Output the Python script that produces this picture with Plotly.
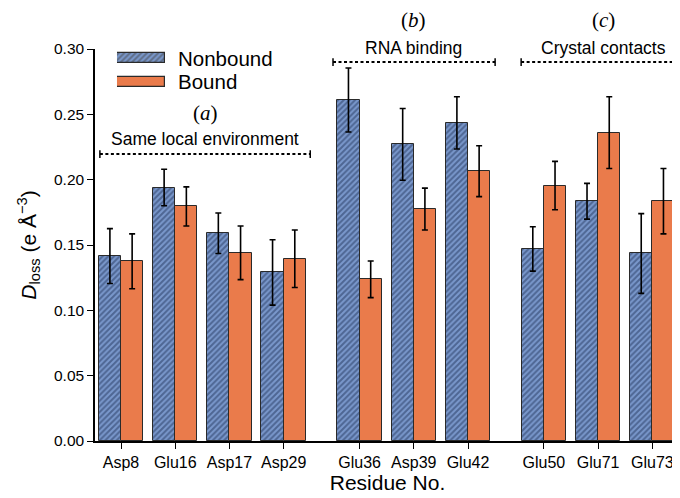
import plotly.graph_objects as go

residues = ["Asp8", "Glu16", "Asp17", "Asp29", "Glu36", "Asp39", "Glu42", "Glu50", "Glu71", "Glu73"]
xpos = [0, 1, 2, 3, 4.4, 5.4, 6.4, 7.8, 8.8, 9.8]
nonbound = [0.1415, 0.194, 0.159, 0.129, 0.261, 0.227, 0.2435, 0.147, 0.1835, 0.1435]
nonbound_err = [0.021, 0.014, 0.0155, 0.025, 0.0245, 0.0275, 0.020, 0.017, 0.0137, 0.0305]
bound = [0.1375, 0.1795, 0.144, 0.1395, 0.1237, 0.1775, 0.2065, 0.1955, 0.236, 0.1835]
bound_err = [0.021, 0.015, 0.0205, 0.022, 0.0140, 0.016, 0.0195, 0.0185, 0.0275, 0.0250]
ytick_vals = [0.0, 0.05, 0.10, 0.15, 0.20, 0.25, 0.30]
ytick_text = ["0.00", "0.05", "0.10", "0.15", "0.20", "0.25", "0.30"]

BLUE_BG = "#7a98cc"
BLUE_FG = "#22345a"
ORANGE = "#ea7b4b"
EDGE = "#2a2a2a"
BW = 0.41
FONT = "Arial, Liberation Sans, sans-serif"

fig = go.Figure()
fig.add_trace(go.Bar(
    x=xpos, y=nonbound, width=BW, offset=-BW, name="Nonbound",
    marker=dict(color=BLUE_BG, line=dict(color=EDGE, width=1),
                pattern=dict(shape="/", fgcolor=BLUE_FG, bgcolor=BLUE_BG, size=4, solidity=0.5)),
    error_y=dict(type="data", array=nonbound_err, color="black", thickness=1.6, width=3),
    showlegend=False))
fig.add_trace(go.Bar(
    x=xpos, y=bound, width=BW, offset=0, name="Bound",
    marker=dict(color=ORANGE, line=dict(color=EDGE, width=1)),
    error_y=dict(type="data", array=bound_err, color="black", thickness=1.6, width=3),
    showlegend=False))

# legend swatches drawn as bars on an overlay axis
fig.add_trace(go.Bar(
    x=[1, 1], y=[1, 0], orientation="h", width=0.42, xaxis="x2", yaxis="y2",
    marker=dict(color=[BLUE_BG, ORANGE], line=dict(color=EDGE, width=1.2),
                pattern=dict(shape=["/", ""], fgcolor=BLUE_FG, size=4, solidity=0.5)),
    showlegend=False, hoverinfo="skip"))

# page has an 8px body margin, so the figure is 8px smaller on each axis
fig.update_layout(
    width=672, height=490,
    margin=dict(l=87, r=0, t=41, b=57),
    paper_bgcolor="white", plot_bgcolor="white",
    font=dict(family=FONT, color="black", size=15),
    xaxis=dict(range=[-0.48, 10.31], tickvals=xpos, ticktext=residues,
               showgrid=False, zeroline=False, showline=True, linecolor="black", linewidth=1.5,
               ticks="outside", ticklen=6, tickwidth=1.3, tickcolor="black",
               tickfont=dict(size=16),
               title=dict(text="Residue No.", font=dict(size=21), standoff=4)),
    yaxis=dict(range=[0, 0.30], tickvals=ytick_vals, ticktext=ytick_text,
               showgrid=False, zeroline=False, showline=True, linecolor="black", linewidth=1.5,
               ticks="outside", ticklen=6, tickwidth=1.3, tickcolor="black",
               tickfont=dict(size=15.5),
               title=dict(text="<i>D</i><sub>loss</sub> (e Å<sup>−3</sup>)", font=dict(size=21), standoff=12)),
    xaxis2=dict(domain=[0.0376, 0.1197], range=[0, 1], visible=False, anchor="y2", fixedrange=True),
    yaxis2=dict(domain=[0.85, 1.0], range=[-1.089, 1.392], visible=False, anchor="x2", fixedrange=True),
    bargap=0,
)

# legend labels
fig.add_annotation(x=0.1385, y=1 - (58.3 - 49) / 392, xref="paper", yref="paper", text="Nonbound",
                   showarrow=False, xanchor="left", yanchor="middle", font=dict(size=20.5))
fig.add_annotation(x=0.1385, y=1 - (82 - 49) / 392, xref="paper", yref="paper", text="Bound",
                   showarrow=False, xanchor="left", yanchor="middle", font=dict(size=20.5))

SERIF = "Liberation Serif, Times New Roman, serif"
groups = [
    # (label, title, x-center (data), label y px, title y px, line y (data), x0, x1)
    ("(<i>a</i>)", "Same local environment", 1.55, 113, 139, 0.2196, -0.39, 3.49),
    ("(<i>b</i>)", "RNA binding", 5.4, 20, 48, 0.29, 3.91, 6.90),
    ("(<i>c</i>)", "Crystal contacts", 8.9, 20, 48, 0.29, 7.38, 10.31),
]
for lab, title, xc, ly, ty, yl, x0, x1 in groups:
    fig.add_annotation(x=xc, y=(441 - ly) / 392, xref="x", yref="paper", text=lab, showarrow=False,
                       yanchor="middle", font=dict(family=SERIF, size=21))
    fig.add_annotation(x=xc, y=(441 - ty) / 392, xref="x", yref="paper", text=title, showarrow=False,
                       yanchor="middle", font=dict(size=17.5))
    fig.add_shape(type="line", x0=x0, x1=x1, y0=yl, y1=yl, xref="x", yref="y",
                  line=dict(color="black", width=2, dash="3px,2.5px"))
    for xe in (x0, x1):
        if xe < 10.3:
            fig.add_shape(type="line", x0=xe, x1=xe, y0=yl - 0.003, y1=yl + 0.003, xref="x", yref="y",
                          line=dict(color="black", width=1.5))

fig.write_html("out.html")
